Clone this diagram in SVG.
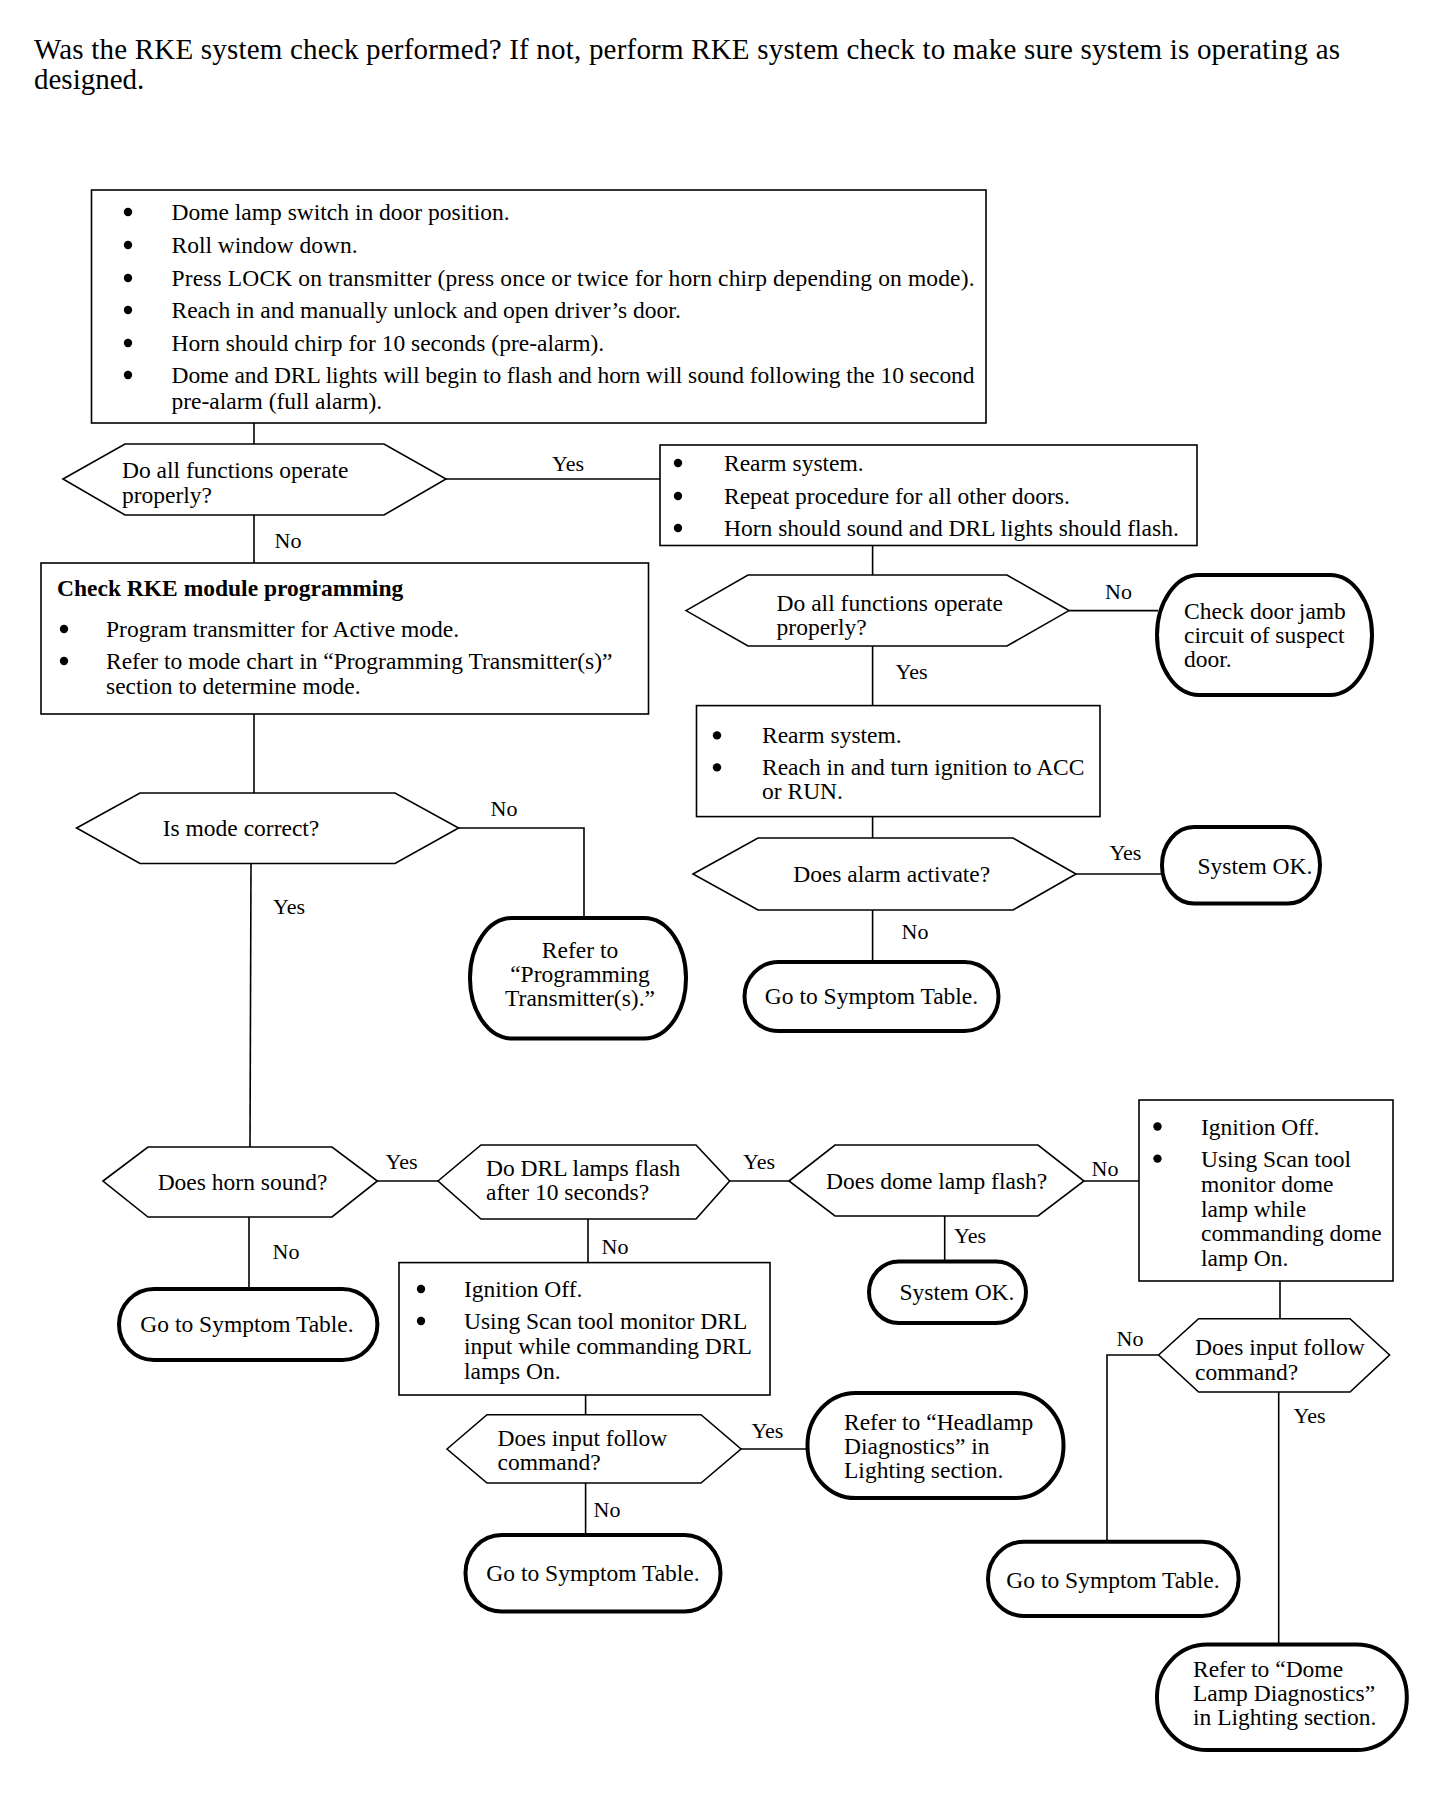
<svg xmlns="http://www.w3.org/2000/svg" width="1440" height="1794" viewBox="0 0 1440 1794">
<style>
.box{fill:#fff;stroke:#000;stroke-width:1.6}
.dia{fill:#fff;stroke:#000;stroke-width:1.6}
.term{fill:#fff;stroke:#000;stroke-width:4}
.conn{fill:none;stroke:#000;stroke-width:1.6}
text{font-family:"Liberation Serif","Times New Roman",serif;font-size:23.5px;fill:#000}
.c{text-anchor:middle}
.bd{font-weight:bold}
.lbl{font-size:22px}
.ttl{font-size:29px}
.dot{fill:#000}
</style>
<rect width="1440" height="1794" fill="#fff"/>
<g id="title">
<text class="ttl" x="34" y="59" textLength="1306">Was the RKE system check performed? If not, perform RKE system check to make sure system is operating as</text>
<text class="ttl" x="34" y="89">designed.</text>
</g>
<g id="connectors">
<line class="conn" x1="254" y1="423" x2="254" y2="444"/>
<line class="conn" x1="446" y1="479" x2="660" y2="479"/>
<line class="conn" x1="254" y1="515" x2="254" y2="563"/>
<line class="conn" x1="254" y1="714" x2="254" y2="793"/>
<polyline class="conn" points="458.6,828 584,828 584,918"/>
<line class="conn" x1="251" y1="863.5" x2="250" y2="1147"/>
<line class="conn" x1="872.6" y1="545.5" x2="872.6" y2="575"/>
<line class="conn" x1="1069" y1="610.6" x2="1158" y2="610.6"/>
<line class="conn" x1="872.6" y1="646" x2="872.6" y2="705.6"/>
<line class="conn" x1="872.6" y1="816.6" x2="872.6" y2="838"/>
<line class="conn" x1="1076" y1="874" x2="1163" y2="874"/>
<line class="conn" x1="872.6" y1="910" x2="872.6" y2="964"/>
<line class="conn" x1="249" y1="1217" x2="249" y2="1289"/>
<line class="conn" x1="377.4" y1="1181" x2="438" y2="1181"/>
<line class="conn" x1="729.7" y1="1181" x2="789" y2="1181"/>
<line class="conn" x1="1084" y1="1181" x2="1139" y2="1181"/>
<line class="conn" x1="944.7" y1="1216" x2="944.7" y2="1261.5"/>
<line class="conn" x1="588" y1="1219" x2="588" y2="1262.6"/>
<line class="conn" x1="585.6" y1="1395" x2="585.6" y2="1414.7"/>
<line class="conn" x1="741" y1="1449" x2="807.5" y2="1449"/>
<line class="conn" x1="585.6" y1="1483" x2="585.6" y2="1535"/>
<line class="conn" x1="1280" y1="1281" x2="1280" y2="1318.7"/>
<polyline class="conn" points="1158.6,1355 1107,1355 1107,1541.7"/>
<line class="conn" x1="1278.7" y1="1392" x2="1278.7" y2="1644.6"/>
<text class="lbl c" x="568" y="471">Yes</text>
<text class="lbl c" x="288" y="548">No</text>
<text class="lbl c" x="504" y="816">No</text>
<text class="lbl c" x="289" y="914">Yes</text>
<text class="lbl c" x="1118.5" y="599">No</text>
<text class="lbl c" x="911.5" y="679">Yes</text>
<text class="lbl c" x="1125.4" y="860">Yes</text>
<text class="lbl c" x="915" y="939">No</text>
<text class="lbl c" x="286" y="1259">No</text>
<text class="lbl c" x="401.5" y="1169">Yes</text>
<text class="lbl c" x="759" y="1169">Yes</text>
<text class="lbl c" x="615" y="1253.5">No</text>
<text class="lbl c" x="1105" y="1176">No</text>
<text class="lbl c" x="970" y="1243">Yes</text>
<text class="lbl c" x="767.4" y="1437.6">Yes</text>
<text class="lbl c" x="607" y="1516.5">No</text>
<text class="lbl c" x="1130" y="1346">No</text>
<text class="lbl c" x="1309.5" y="1422.7">Yes</text>
</g>
<g id="box1">
<rect class="box" x="91.5" y="190" width="894.5" height="233"/>
<circle class="dot" cx="128" cy="212" r="4.2"/>
<circle class="dot" cx="128" cy="245" r="4.2"/>
<circle class="dot" cx="128" cy="278" r="4.2"/>
<circle class="dot" cx="128" cy="310" r="4.2"/>
<circle class="dot" cx="128" cy="343" r="4.2"/>
<circle class="dot" cx="128" cy="375" r="4.2"/>
<text x="171.5" y="219.6">Dome lamp switch in door position.</text>
<text x="171.5" y="252.8">Roll window down.</text>
<text x="171.5" y="286" textLength="803">Press LOCK on transmitter (press once or twice for horn chirp depending on mode).</text>
<text x="171.5" y="318">Reach in and manually unlock and open driver’s door.</text>
<text x="171.5" y="351">Horn should chirp for 10 seconds (pre-alarm).</text>
<text x="171.5" y="383" textLength="803">Dome and DRL lights will begin to flash and horn will sound following the 10 second</text>
<text x="171.5" y="409">pre-alarm (full alarm).</text>
</g>
<g id="dec1">
<polygon class="dia" points="63,479 125,444 384,444 446,479 384,515 125,515"/>
<text x="122" y="478">Do all functions operate</text>
<text x="122" y="503">properly?</text>
</g>
<g id="box2">
<rect class="box" x="660" y="445" width="537" height="100.5"/>
<circle class="dot" cx="678" cy="463" r="4.2"/>
<circle class="dot" cx="678" cy="496" r="4.2"/>
<circle class="dot" cx="678" cy="528" r="4.2"/>
<text x="724" y="471">Rearm system.</text>
<text x="724" y="504">Repeat procedure for all other doors.</text>
<text x="724" y="536">Horn should sound and DRL lights should flash.</text>
</g>
<g id="box3">
<rect class="box" x="41" y="563" width="607.5" height="151"/>
<text class="bd" x="57" y="596">Check RKE module programming</text>
<circle class="dot" cx="64" cy="629" r="4.2"/>
<circle class="dot" cx="64" cy="661" r="4.2"/>
<text x="106" y="637">Program transmitter for Active mode.</text>
<text x="106" y="669">Refer to mode chart in “Programming Transmitter(s)”</text>
<text x="106" y="694">section to determine mode.</text>
</g>
<g id="dec2">
<polygon class="dia" points="76.6,828 140,793 395,793 458.6,828 395,863.5 140,863.5"/>
<text class="c" x="241" y="836">Is mode correct?</text>
</g>
<g id="term1">
<rect class="term" x="470" y="918" width="216" height="120.5" rx="42" ry="60"/>
<text class="c" x="580" y="958">Refer to</text>
<text class="c" x="580" y="982">“Programming</text>
<text class="c" x="580" y="1006">Transmitter(s).”</text>
</g>
<g id="dec3">
<polygon class="dia" points="686,610.6 748,575 1007,575 1069,610.6 1007,646 748,646"/>
<text x="776.6" y="611">Do all functions operate</text>
<text x="776.6" y="635">properly?</text>
</g>
<g id="term2">
<rect class="term" x="1157" y="575" width="215" height="120" rx="42" ry="60"/>
<text x="1184" y="619">Check door jamb</text>
<text x="1184" y="643">circuit of suspect</text>
<text x="1184" y="667">door.</text>
</g>
<g id="box4">
<rect class="box" x="696.5" y="705.6" width="403.5" height="111"/>
<circle class="dot" cx="717" cy="735.4" r="4.2"/>
<circle class="dot" cx="717" cy="767.4" r="4.2"/>
<text x="762" y="743">Rearm system.</text>
<text x="762" y="775">Reach in and turn ignition to ACC</text>
<text x="762" y="799">or RUN.</text>
</g>
<g id="dec4">
<polygon class="dia" points="693,874 758,838 1013,838 1076,874 1013,910 758,910"/>
<text class="c" x="891.7" y="882">Does alarm activate?</text>
</g>
<g id="term3">
<rect class="term" x="1162" y="827" width="158" height="76.5" rx="32" ry="38"/>
<text x="1197.5" y="874">System OK.</text>
</g>
<g id="term4">
<rect class="term" x="744.5" y="962" width="254" height="69" rx="34" ry="34.5"/>
<text class="c" x="871.5" y="1004">Go to Symptom Table.</text>
</g>
<g id="dec5">
<polygon class="dia" points="103,1181 148,1147 332,1147 377.4,1181 332,1217 148,1217"/>
<text class="c" x="242.5" y="1189.5">Does horn sound?</text>
</g>
<g id="term5">
<rect class="term" x="119" y="1289" width="258.4" height="71" rx="35" ry="35.5"/>
<text class="c" x="247" y="1332">Go to Symptom Table.</text>
</g>
<g id="dec6">
<polygon class="dia" points="438,1181 481,1145 696,1145 729.7,1181 696,1219 481,1219"/>
<text x="486" y="1176">Do DRL lamps flash</text>
<text x="486" y="1200">after 10 seconds?</text>
</g>
<g id="dec7">
<polygon class="dia" points="789,1181 835,1145 1038,1145 1084,1181 1038,1216 835,1216"/>
<text x="826" y="1189">Does dome lamp flash?</text>
</g>
<g id="term6">
<rect class="term" x="869" y="1261.5" width="157" height="61.5" rx="30" ry="30.75"/>
<text class="c" x="957" y="1300">System OK.</text>
</g>
<g id="box5">
<rect class="box" x="1139" y="1100" width="254" height="181"/>
<circle class="dot" cx="1157.5" cy="1126.5" r="4.2"/>
<circle class="dot" cx="1157.5" cy="1158.6" r="4.2"/>
<text x="1201" y="1134.5">Ignition Off.</text>
<text x="1201" y="1166.6">Using Scan tool</text>
<text x="1201" y="1191.7">monitor dome</text>
<text x="1201" y="1217">lamp while</text>
<text x="1201" y="1241">commanding dome</text>
<text x="1201" y="1266">lamp On.</text>
</g>
<g id="box6">
<rect class="box" x="399" y="1262.6" width="371" height="132.4"/>
<circle class="dot" cx="421" cy="1289" r="4.2"/>
<circle class="dot" cx="421" cy="1321" r="4.2"/>
<text x="464" y="1297">Ignition Off.</text>
<text x="464" y="1329">Using Scan tool monitor DRL</text>
<text x="464" y="1354">input while commanding DRL</text>
<text x="464" y="1379">lamps On.</text>
</g>
<g id="dec8">
<polygon class="dia" points="447,1449 487,1414.7 701,1414.7 741,1449 701,1483 487,1483"/>
<text x="497.5" y="1445.6">Does input follow</text>
<text x="497.5" y="1469.6">command?</text>
</g>
<g id="term7">
<rect class="term" x="807.5" y="1393" width="256" height="105" rx="48" ry="52"/>
<text x="844" y="1429.6">Refer to “Headlamp</text>
<text x="844" y="1453.7">Diagnostics” in</text>
<text x="844" y="1477.7">Lighting section.</text>
</g>
<g id="term8">
<rect class="term" x="465.5" y="1535" width="255" height="76.5" rx="36" ry="38"/>
<text class="c" x="593" y="1580.6">Go to Symptom Table.</text>
</g>
<g id="dec9">
<polygon class="dia" points="1158.6,1355 1198.6,1318.7 1350,1318.7 1389.6,1355 1350,1392 1198.6,1392"/>
<text x="1195" y="1355">Does input follow</text>
<text x="1195" y="1380">command?</text>
</g>
<g id="term9">
<rect class="term" x="988" y="1541.7" width="250.6" height="74.3" rx="36" ry="37"/>
<text class="c" x="1113" y="1587.5">Go to Symptom Table.</text>
</g>
<g id="term10">
<rect class="term" x="1157" y="1644.6" width="249.8" height="105.4" rx="50" ry="52"/>
<text x="1193" y="1676.7">Refer to “Dome</text>
<text x="1193" y="1700.7">Lamp Diagnostics”</text>
<text x="1193" y="1724.7">in Lighting section.</text>
</g>
</svg>
